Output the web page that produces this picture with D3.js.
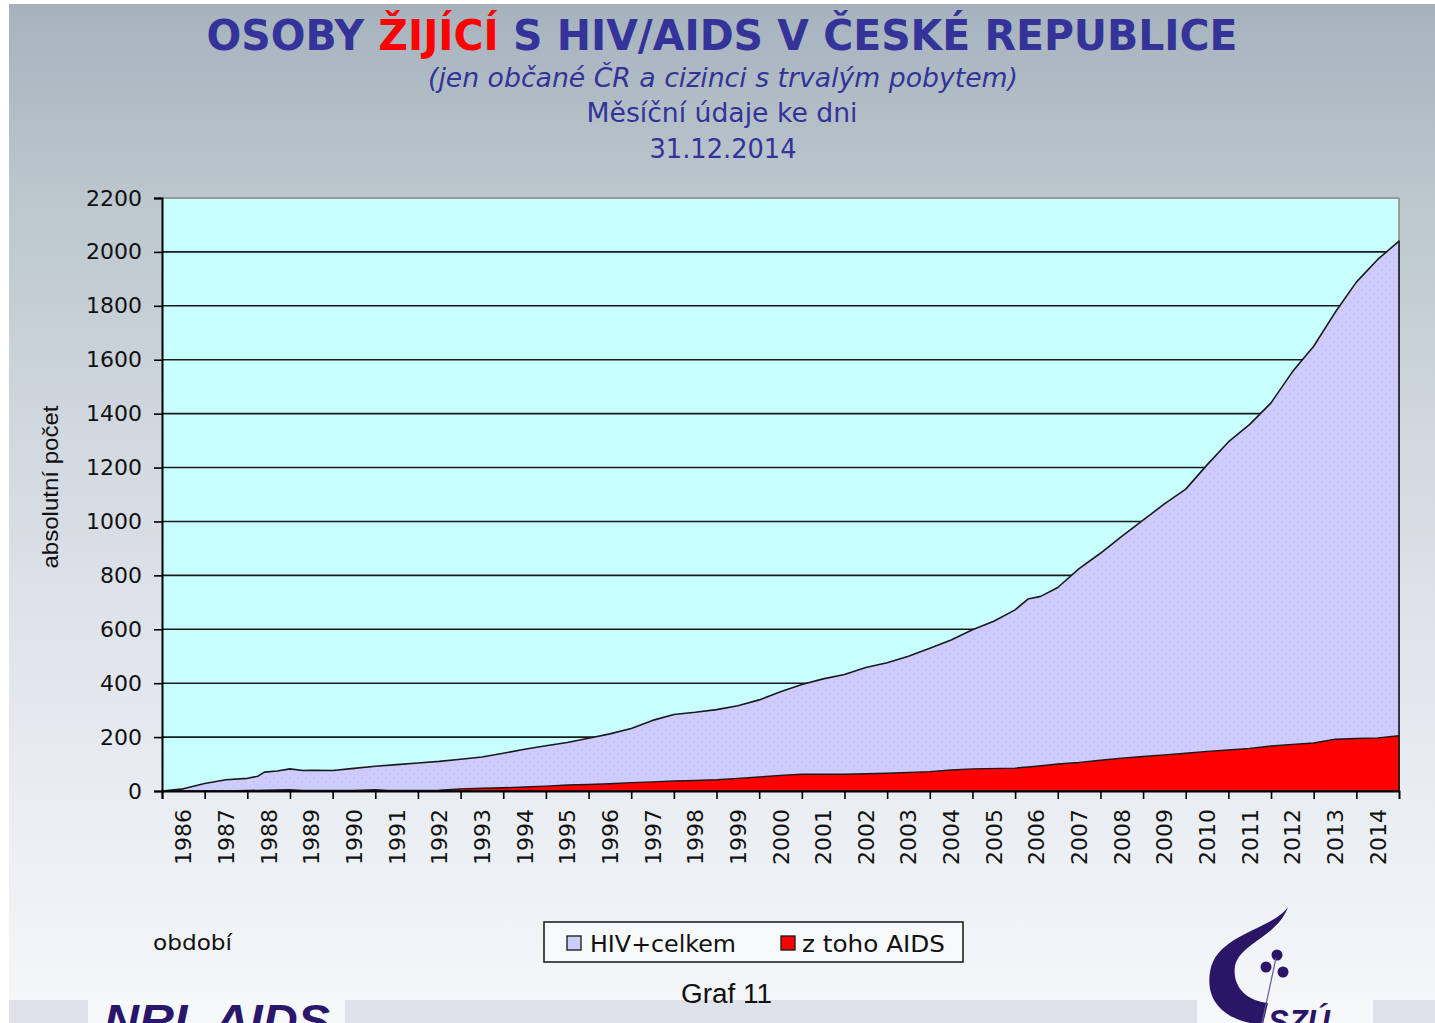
<!DOCTYPE html>
<html><head><meta charset="utf-8">
<script src="https://cdn.jsdelivr.net/npm/d3@7"></script>
<style>html,body{margin:0;padding:0;background:#fff;}svg{display:block;}</style>
</head><body>
<svg id="chart" width="1435" height="1023"></svg>
<script>
// ---------- DATA ----------
const hivPeriods = [1986.0,1986.5,1987.0,1987.5,1988.0,1988.25,1988.4,1988.7,1989.0,1989.3,1989.5,1990.0,1990.5,1991.0,1991.5,1992.0,1992.5,1993.0,1993.5,1994.0,1994.5,1995.0,1995.5,1996.0,1996.5,1997.0,1997.5,1998.0,1998.5,1999.0,1999.5,2000.0,2000.5,2001.0,2001.5,2002.0,2002.5,2003.0,2003.5,2004.0,2004.5,2005.0,2005.5,2006.0,2006.3,2006.6,2007.0,2007.5,2008.0,2008.5,2009.0,2009.5,2010.0,2010.5,2011.0,2011.5,2012.0,2012.5,2013.0,2013.5,2014.0,2014.5,2015.0];
const hivTotal   = [0,8,28,42,47,55,70,74,82,76,77,76,84,92,98,104,110,118,126,140,155,168,180,196,212,232,262,284,292,302,316,338,368,395,416,432,458,476,500,530,560,598,630,672,712,722,755,825,882,945,1005,1065,1120,1210,1295,1360,1440,1555,1650,1775,1888,1972,2040];
const aidsPeriods = [1986.0,1987.5,1988.0,1988.7,1989.0,1989.3,1990.5,1991.0,1991.3,1992.5,1993.0,1993.5,1994.0,1994.5,1995.0,1995.5,1996.0,1996.5,1997.0,1997.5,1998.0,1998.5,1999.0,1999.5,2000.0,2000.5,2001.0,2002.0,2003.0,2004.0,2004.5,2005.0,2006.0,2006.5,2007.0,2007.5,2008.0,2008.5,2009.0,2009.5,2010.0,2010.5,2011.0,2011.5,2012.0,2012.5,2013.0,2013.5,2014.0,2014.5,2015.0];
const aidsCases   = [0,0,2,4,5,2,2,5,2,3,8,10,12,15,18,22,24,27,31,34,37,39,42,47,52,58,62,62,66,72,78,82,85,92,100,106,114,122,128,134,140,147,152,158,167,173,178,192,195,197,205];
const yearLabels = d3.range(1986, 2015).map(String);
const yTicks = [0,200,400,600,800,1000,1200,1400,1600,1800,2000,2200];
const seriesNames = ["HIV+celkem", "z toho AIDS"];
const seriesColors = ["#ccccff", "#ff0000"];

// ---------- DRAW ----------
const svg = d3.select("#chart");
const W = 1435, H = 1023;
const defs = svg.append("defs");

const bg = defs.append("linearGradient").attr("id","bg").attr("x1",0).attr("y1",0).attr("x2",0).attr("y2",1);
[[0,"#a6b3bd"],[0.2,"#bcc7ce"],[0.45,"#d3d9e0"],[0.7,"#e4e7ef"],[0.9,"#eff2f5"],[1,"#f4f6f8"]]
  .forEach(([o,c]) => bg.append("stop").attr("offset",o).attr("stop-color",c));

const pat = defs.append("pattern").attr("id","dots").attr("patternUnits","userSpaceOnUse").attr("width",8).attr("height",8);
pat.append("rect").attr("width",8).attr("height",8).attr("fill",seriesColors[0]);
pat.append("circle").attr("cx",2).attr("cy",2).attr("r",0.9).attr("fill","#d6b8f5");
pat.append("circle").attr("cx",6).attr("cy",6).attr("r",0.9).attr("fill","#d6b8f5");

svg.append("rect").attr("width",W).attr("height",H).attr("fill","#ffffff");
svg.append("rect").attr("x",9).attr("y",4).attr("width",W-9).attr("height",996).attr("fill","url(#bg)");
// bottom band
svg.append("rect").attr("x",9).attr("y",1000).attr("width",W-9).attr("height",23).attr("fill","#dfe2eb");
svg.append("rect").attr("x",88).attr("y",1000).attr("width",257).attr("height",23).attr("fill","#f6f8f9");
svg.append("rect").attr("x",1197).attr("y",1000).attr("width",176).attr("height",23).attr("fill","#f6f8f9");

const navy = "#333399";
// Title
const title = svg.append("text").attr("x",722).attr("y",50).attr("text-anchor","middle")
  .attr("font-family","DejaVu Sans").attr("font-weight","bold").attr("font-size",42)
  .attr("textLength",1031).attr("lengthAdjust","spacingAndGlyphs").attr("fill",navy);
title.append("tspan").text("OSOBY ");
title.append("tspan").attr("fill","#ff0000").text("ŽIJÍCÍ");
title.append("tspan").text(" S HIV/AIDS V ČESKÉ REPUBLICE");

svg.append("text").attr("x",723).attr("y",87).attr("text-anchor","middle")
  .attr("font-family","DejaVu Sans").attr("font-style","italic").attr("font-size",26)
  .attr("textLength",590).attr("lengthAdjust","spacingAndGlyphs").attr("fill",navy)
  .text("(jen občané ČR a cizinci s trvalým pobytem)");
svg.append("text").attr("x",722).attr("y",122).attr("text-anchor","middle")
  .attr("font-family","DejaVu Sans").attr("font-size",26)
  .attr("textLength",271).attr("lengthAdjust","spacingAndGlyphs").attr("fill",navy)
  .text("Měsíční údaje ke dni");
svg.append("text").attr("x",723).attr("y",158).attr("text-anchor","middle")
  .attr("font-family","DejaVu Sans").attr("font-size",26)
  .attr("textLength",147).attr("lengthAdjust","spacingAndGlyphs").attr("fill",navy)
  .text("31.12.2014");

// Scales
const x = d3.scaleLinear().domain([1986, 2015]).range([162, 1399]);
const y = d3.scaleLinear().domain([0, 2200]).range([791, 198]);

// Plot area
svg.append("rect").attr("x",x(1986)).attr("y",y(2200)).attr("width",x(2015)-x(1986)).attr("height",y(0)-y(2200)).attr("fill","#c8ffff");
svg.append("line").attr("x1",x(1986)).attr("x2",x(2015)).attr("y1",y(2200)).attr("y2",y(2200)).attr("stroke","#9a9a9a").attr("stroke-width",2);
svg.append("line").attr("x1",x(2015)).attr("x2",x(2015)).attr("y1",y(2200)).attr("y2",y(0)).attr("stroke","#9a9a9a").attr("stroke-width",2);

// gridlines
svg.append("g").selectAll("line").data(yTicks.filter(d => d > 0 && d < 2200)).join("line")
  .attr("x1",x(1986)).attr("x2",x(2015)).attr("y1",d=>y(d)).attr("y2",d=>y(d))
  .attr("stroke","#1a1a1a").attr("stroke-width",1.6);

// areas
const hivData = hivPeriods.map((p,i)=>({t:p,v:hivTotal[i]}));
const aidsData = aidsPeriods.map((p,i)=>({t:p,v:aidsCases[i]}));
const area = d3.area().x(d=>x(d.t)).y0(y(0)).y1(d=>y(d.v)).curve(d3.curveLinear);
svg.append("path").datum(hivData).attr("d",area).attr("fill","url(#dots)").attr("stroke","#1a1a1a").attr("stroke-width",1.6).attr("stroke-linejoin","round");
svg.append("path").datum(aidsData).attr("d",area).attr("fill",seriesColors[1]).attr("stroke","#1a1a1a").attr("stroke-width",1.4).attr("stroke-linejoin","round");

// Y axis
const yAxis = svg.append("g").attr("transform",`translate(${x(1986)},0)`)
  .call(d3.axisLeft(y).tickValues(yTicks).tickSize(8).tickPadding(12).tickFormat(d3.format("d")));
yAxis.select(".domain").attr("stroke","#000").attr("stroke-width",2);
yAxis.selectAll(".tick line").attr("stroke","#000").attr("stroke-width",1.6);
yAxis.selectAll(".tick text").attr("font-family","DejaVu Sans").attr("font-size",22).attr("fill","#111");

// X axis
const xAxis = svg.append("g").attr("transform",`translate(0,${y(0)})`)
  .call(d3.axisBottom(x).tickValues(d3.range(1986, 2015)).tickSize(8).tickFormat(""));
xAxis.select(".domain").attr("stroke","#000").attr("stroke-width",2);
xAxis.selectAll(".tick line").attr("stroke","#000").attr("stroke-width",1.6);
svg.append("g").selectAll("text").data(yearLabels).join("text")
  .attr("transform", d => `translate(${x(+d + 0.5) + 8},${y(0) + 18}) rotate(-90)`)
  .attr("text-anchor","end").attr("font-family","DejaVu Sans").attr("font-size",22).attr("fill","#111")
  .text(d => d);

// axis titles
svg.append("text").attr("transform","translate(58,487) rotate(-90)").attr("text-anchor","middle")
  .attr("font-family","Liberation Sans").attr("font-size",22).attr("fill","#111")
  .attr("textLength",163).attr("lengthAdjust","spacingAndGlyphs").text("absolutní počet");
svg.append("text").attr("x",153).attr("y",950).attr("font-family","DejaVu Sans").attr("font-size",22)
  .attr("fill","#111").attr("textLength",79).attr("lengthAdjust","spacingAndGlyphs").text("období");

// Legend
svg.append("rect").attr("x",544).attr("y",922).attr("width",419).attr("height",40).attr("fill","#f8f9fa").attr("stroke","#222").attr("stroke-width",1.6);
const legItems = [{x:567, tx:590, tl:146}, {x:781, tx:802, tl:143}];
legItems.forEach((it,i) => {
  svg.append("rect").attr("x",it.x).attr("y",936).attr("width",14).attr("height",14).attr("fill",seriesColors[i]).attr("stroke","#222").attr("stroke-width",1.4);
  svg.append("text").attr("x",it.tx).attr("y",952).attr("font-family","DejaVu Sans").attr("font-size",23).attr("fill","#111")
    .attr("textLength",it.tl).attr("lengthAdjust","spacingAndGlyphs").text(seriesNames[i]);
});

svg.append("text").attr("x",681).attr("y",1003).attr("font-family","Liberation Sans").attr("font-size",27).attr("fill","#111")
  .attr("textLength",91).attr("lengthAdjust","spacingAndGlyphs").text("Graf 11");

// NRL AIDS logo text
svg.append("text").attr("x",104).attr("y",1036).attr("font-family","Liberation Sans").attr("font-weight","bold").attr("font-style","italic")
  .attr("font-size",44).attr("fill","#2a176c").attr("textLength",226).attr("lengthAdjust","spacingAndGlyphs").text("NRL AIDS");

// SZÚ logo
const logo = svg.append("g").attr("fill","#2b1566");
logo.append("path").attr("d","M1288,907 C1272,930 1216,934 1210,972 C1205,1004 1228,1020 1256,1024 L1263,1024 L1268,1003 C1246,1001 1232,986 1235,966 C1239,944 1278,936 1288,907 Z");
logo.append("circle").attr("cx",1277).attr("cy",955).attr("r",5.5);
logo.append("circle").attr("cx",1266).attr("cy",967).attr("r",5.5);
logo.append("circle").attr("cx",1283).attr("cy",972).attr("r",5.5);
svg.append("line").attr("x1",1276).attr("y1",958).attr("x2",1262).attr("y2",1023).attr("stroke","#6a5a9a").attr("stroke-width",1.2);
svg.append("text").attr("x",1268).attr("y",1033).attr("font-family","Liberation Sans").attr("font-weight","bold").attr("font-style","italic")
  .attr("font-size",34).attr("fill","#2b1566").attr("textLength",62).attr("lengthAdjust","spacingAndGlyphs").text("SZÚ");
</script>
</body></html>
